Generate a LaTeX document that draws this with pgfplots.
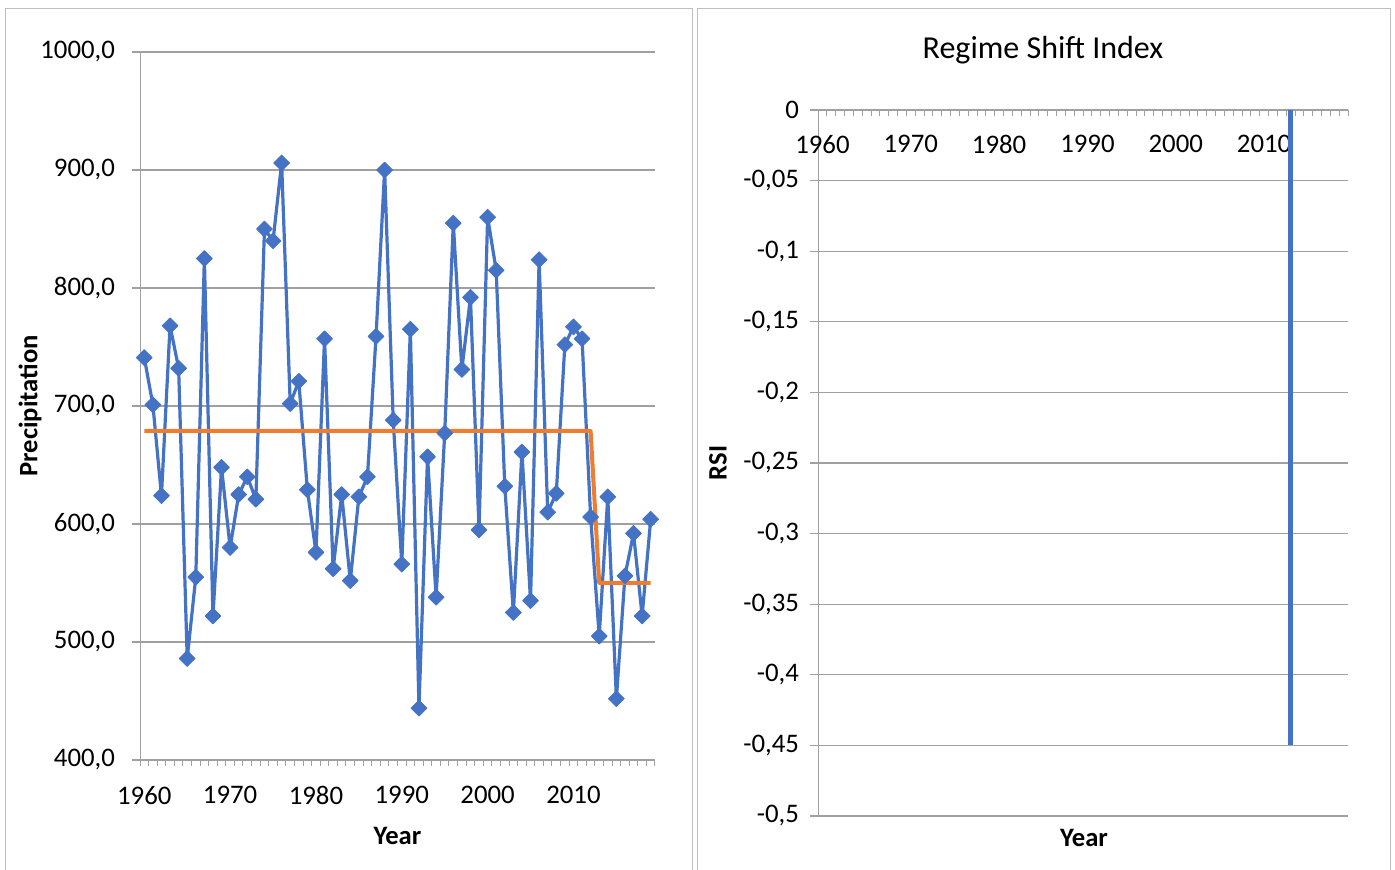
\documentclass[border=0pt]{standalone}
\usepackage{fontspec}
\setmainfont{Carlito}
\usepackage{pgfplots}
\pgfplotsset{compat=1.18}
\usepackage{pgfplotstable}
\definecolor{xlblue}{HTML}{4472C4}
\definecolor{xlorange}{HTML}{ED7D31}
\definecolor{gridgray}{HTML}{A0A0A0}
\definecolor{framegray}{HTML}{BFBFBF}

% year, precipitation, regime mean
\pgfplotstableread{
year precip regime
1960 741 679
1961 701 679
1962 624 679
1963 768 679
1964 732 679
1965 486 679
1966 555 679
1967 825 679
1968 522 679
1969 648 679
1970 580 679
1971 625 679
1972 640 679
1973 621 679
1974 850 679
1975 840 679
1976 906 679
1977 702 679
1978 721 679
1979 629 679
1980 576 679
1981 757 679
1982 562 679
1983 625 679
1984 552 679
1985 623 679
1986 640 679
1987 759 679
1988 900 679
1989 688 679
1990 566 679
1991 765 679
1992 444 679
1993 657 679
1994 538 679
1995 677 679
1996 855 679
1997 731 679
1998 792 679
1999 595 679
2000 860 679
2001 815 679
2002 632 679
2003 525 679
2004 661 679
2005 535 679
2006 824 679
2007 610 679
2008 626 679
2009 752 679
2010 767 679
2011 757 679
2012 606 679
2013 505 550
2014 623 550
2015 452 550
2016 556 550
2017 592 550
2018 522 550
2019 604 550
}\precip

\pgfplotsset{
  xlstyle/.style={
    scale only axis,
    xmin=1959.5, xmax=2019.5,
    axis line style={draw=gridgray, -},
    xtick={1960,1970,...,2010},
    xticklabels={1960,1970,1980,1990,2000,2010},
    minor xtick={1959.5,1960.5,...,2019.5},
    ymajorgrids, major grid style={gridgray, line width=0.6pt},
    tick align=outside, major tick length=4pt, minor tick length=3pt,
    major x tick style={draw=none}, minor x tick style={gridgray, line width=0.5pt},
    major y tick style={gridgray, line width=0.6pt},
    tick label style={font=\fontsize{13.4}{16}\selectfont, black},
    label style={font=\bfseries\fontsize{13.3}{16}\selectfont},
  }
}

\begin{document}
\begin{tikzpicture}
\useasboundingbox (0pt,0pt) rectangle (697.5pt,435pt);
\draw[framegray] (2.5pt,-10pt) rectangle (346pt,431pt);
\draw[framegray] (348.5pt,-10pt) rectangle (695pt,431pt);

\begin{axis}[xlstyle,
  at={(70pt,55pt)}, anchor=south west,
  width=257.5pt, height=354pt,
  ymin=400, ymax=1000,
  axis x line*=bottom, axis y line*=left,
  ytick={400,500,600,700,800,900,1000},
  yticklabels={{400,0},{500,0},{600,0},{700,0},{800,0},{900,0},{1000,0}},
  yticklabel style={xshift=-5pt},
  xticklabel style={yshift=-5.5pt},
  xlabel={Year}, ylabel={Precipitation},
  xlabel style={at={(axis description cs:0.5,-0.1073)}, anchor=center},
  ylabel style={at={(axis description cs:-0.2136,0.5)}, anchor=center},
]
\addplot[xlblue, line width=1.6pt, line join=round, mark=square*, mark size=2.8pt,
  mark options={rotate=45, fill=xlblue, draw=xlblue, line width=0.4pt, solid}]
  table[x=year, y=precip]{\precip};
\addplot[xlorange, line width=2pt, line join=round, no marks]
  table[x=year, y=regime]{\precip};
\end{axis}

\node[font=\fontsize{16}{19}\selectfont] at (521.5pt,410pt) {Regime Shift Index};

\begin{axis}[xlstyle,
  at={(409pt,27pt)}, anchor=south west,
  width=265pt, height=353pt,
  ymin=-0.5, ymax=0,
  axis x line*=top, axis y line*=left,
  xtick pos=right, xticklabel pos=right,
  minor x tick style={yshift=-3pt},
  xticklabel style={anchor=north, yshift=-13pt},
  ytick={-0.5,-0.45,-0.4,-0.35,-0.3,-0.25,-0.2,-0.15,-0.1,-0.05,0},
  yticklabels={{-0,5},{-0,45},{-0,4},{-0,35},{-0,3},{-0,25},{-0,2},{-0,15},{-0,1},{-0,05},{0}},
  yticklabel style={xshift=-2pt},
  xlabel={Year}, ylabel={RSI},
  xlabel style={at={(axis description cs:0.502,-0.0312)}, anchor=center},
  ylabel style={at={(axis description cs:-0.1887,0.5)}, anchor=center},
]
\addplot[ybar, bar width=2.7pt, fill=xlblue, draw=none]
  coordinates {(2013,-0.45)};
\end{axis}
\end{tikzpicture}
\end{document}
